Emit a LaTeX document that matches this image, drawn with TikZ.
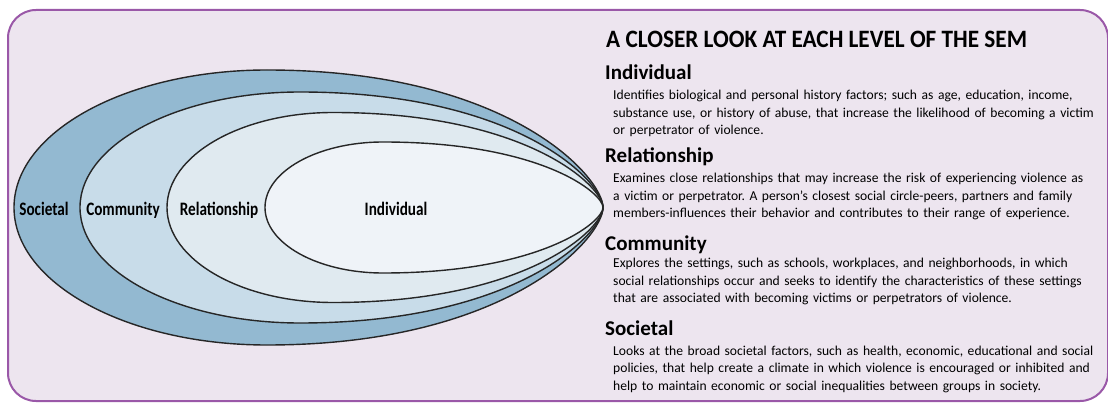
\documentclass[tikz,border=0pt]{standalone}
\usepackage{fontspec}
\setmainfont{Carlito}
\newfontfamily\condfont{Carlito}[FakeStretch=0.8]
\newfontfamily\titlefont{Carlito}[FakeStretch=0.93]
\frenchspacing

\definecolor{framepurple}{HTML}{9A58A8}
\definecolor{panelbg}{HTML}{EDE5EF}
\definecolor{societal}{HTML}{93B9D1}
\definecolor{community}{HTML}{C8DCE9}
\definecolor{relation}{HTML}{E0EAF0}
\definecolor{individual}{HTML}{EFF3F8}

\begin{document}
\begin{tikzpicture}[x=1pt,y=-1pt,
    ring/.style={draw=black!85,line width=1.4pt},
    ringlabel/.style={anchor=base,inner sep=0pt,font=\condfont\bfseries\fontsize{19}{19}\selectfont},
    heading/.style={anchor=base west,inner sep=0pt,font=\bfseries\fontsize{21}{21}\selectfont},
    body/.style={anchor=base west,inner sep=0pt,text width=495pt,align=left,font=\fontsize{13.6}{17.5}\selectfont}]

  \useasboundingbox (0,0) rectangle (1108,403);

  % panel
  \draw[framepurple,line width=2pt,fill=panelbg,rounded corners=28pt] (8,10) rectangle (1108,401);

  % nested levels, all meeting at the tip (603,207.5)
  \foreach \lx/\tx/\hh/\col in {14/267/137.5/societal,80/300/115.5/community,167/333/95/relation,265/383/65.5/individual}{
    \filldraw[ring,fill=\col]
      (603,207.5) .. controls (603,{207.5-0.22*\hh}) and ({\tx+0.72*(603-\tx)},{207.5-\hh}) .. (\tx,{207.5-\hh})
      .. controls ({\tx-0.552*(\tx-\lx)},{207.5-\hh}) and (\lx,{207.5-0.552*\hh}) .. (\lx,207.5)
      .. controls (\lx,{207.5+0.552*\hh}) and ({\tx-0.552*(\tx-\lx)},{207.5+\hh}) .. (\tx,{207.5+\hh})
      .. controls ({\tx+0.72*(603-\tx)},{207.5+\hh}) and (603,{207.5+0.22*\hh}) .. cycle;
  }

  \node[ringlabel] (lsoc) at (44,216) {Societal};
  \node[ringlabel] (lcom) at (123,216) {Community};
  \node[ringlabel] (lrel) at (219,216) {Relationship};
  \node[ringlabel] (lind) at (396,216) {Individual};

  % text column
  \node[anchor=base west,inner sep=0pt,font=\titlefont\bfseries\fontsize{25}{25}\selectfont] (title) at (606,48) {A CLOSER LOOK AT EACH LEVEL OF THE SEM};

  \node[heading] (hind) at (605,80) {Individual};
  \node[body] (tind) at (613,100) {Identifies biological and personal history factors; such as age, education, income,\\
    substance use, or history of abuse, that increase the likelihood of becoming a victim\\
    or perpetrator of violence.};

  \node[heading] (hrel) at (605,163) {Relationship};
  \node[body] (trel) at (613,183) {Examines close relationships that may increase the risk of experiencing violence as\\
    a victim or perpetrator. A person’s closest social circle-peers, partners and family\\
    members-influences their behavior and contributes to their range of experience.};

  \node[heading] (hcom) at (605,251) {Community};
  \node[body] (tcom) at (613,268) {Explores the settings, such as schools, workplaces, and neighborhoods, in which\\
    social relationships occur and seeks to identify the characteristics of these settings\\
    that are associated with becoming victims or perpetrators of violence.};

  \node[heading] (hsoc) at (605,335) {Societal};
  \node[body] (tsoc) at (613,355) {Looks at the broad societal factors, such as health, economic, educational and social\\
    policies, that help create a climate in which violence is encouraged or inhibited and\\
    help to maintain economic or social inequalities between groups in society.};

\end{tikzpicture}
\end{document}
